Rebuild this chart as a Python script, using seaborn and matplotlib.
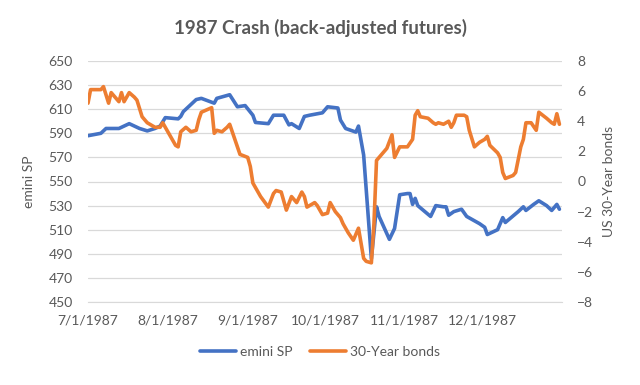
import matplotlib
matplotlib.use("Agg")
import matplotlib.pyplot as plt
import seaborn as sns
import pandas as pd

# values (month-day in 1987)
sp_dates = [
    "07-01", "07-06", "07-08", "07-13", "07-17", "07-21", "07-24", "07-27", "07-29", "07-31",
    "08-05", "08-06", "08-07", "08-12", "08-14", "08-19", "08-20", "08-25", "08-28", "08-31",
    "09-03", "09-04", "09-09", "09-11", "09-15", "09-17", "09-18", "09-21", "09-23", "09-25",
    "09-30", "10-02", "10-06", "10-07", "10-09", "10-13", "10-14", "10-15", "10-16", "10-19",
    "10-21", "10-22", "10-26", "10-28", "10-30", "11-02", "11-03", "11-04", "11-05", "11-06",
    "11-11", "11-13", "11-16", "11-17", "11-18", "11-20", "11-23", "11-25", "11-30", "12-02",
    "12-03", "12-07", "12-09", "12-10", "12-15", "12-17", "12-18", "12-21", "12-23", "12-26",
    "12-28", "12-30", "12-31",
]
sp_values = [
    588, 590, 594, 594, 598, 594, 592, 594, 596, 603,
    602, 604, 608, 618, 619, 615, 619, 622, 612, 613,
    605, 599, 598, 605, 605, 597, 598, 594, 604, 605,
    607, 612, 611, 601, 594, 591, 596, 584, 572, 486,
    529, 521, 502, 511, 539, 540, 540, 531, 536, 530,
    521, 530, 529, 529, 522, 525, 527, 521, 515, 512,
    506, 510, 520, 516, 525, 529, 526, 531, 534, 530,
    526, 531, 527,
]

bond_dates = [
    "07-01", "07-02", "07-06", "07-07", "07-09", "07-10", "07-13", "07-14", "07-15", "07-17",
    "07-19", "07-20", "07-22", "07-24", "07-27", "07-29", "07-30", "08-01", "08-04", "08-05",
    "08-06", "08-08", "08-10", "08-12", "08-13", "08-14", "08-18", "08-19", "08-20", "08-22",
    "08-24", "08-25", "08-26", "08-28", "08-29", "09-01", "09-02", "09-03", "09-04", "09-06",
    "09-09", "09-11", "09-12", "09-14", "09-16", "09-18", "09-19", "09-20", "09-22", "09-23",
    "09-24", "09-27", "09-28", "09-30", "10-02", "10-03", "10-05", "10-07", "10-08", "10-10",
    "10-12", "10-14", "10-15", "10-16", "10-17", "10-19", "10-20", "10-21", "10-23", "10-25",
    "10-27", "10-28", "10-30", "11-02", "11-04", "11-05", "11-06", "11-07", "11-10", "11-12",
    "11-13", "11-14", "11-16", "11-18", "11-19", "11-20", "11-21", "11-24", "11-25", "11-26",
    "11-28", "11-30", "12-02", "12-03", "12-04", "12-07", "12-08", "12-09", "12-10", "12-13",
    "12-14", "12-16", "12-17", "12-18", "12-20", "12-22", "12-23", "12-26", "12-28", "12-29",
    "12-30", "12-31",
]
bond_values = [
    5.2, 6.1, 6.1, 6.3, 5.2, 5.9, 5.3, 5.9, 5.3, 5.9,
    5.6, 5.4, 4.3, 3.9, 3.6, 3.6, 3.9, 3.3, 2.4, 2.3,
    3.3, 3.6, 3.3, 3.4, 4.1, 4.6, 4.9, 3.2, 3.4, 3.3,
    3.6, 3.8, 3.3, 2.3, 1.8, 1.6, 1.0, -0.1, -0.4, -1.0,
    -1.7, -0.8, -0.6, -0.7, -1.9, -1.0, -1.2, -1.4, -0.7, -1.0,
    -1.7, -1.4, -1.6, -2.2, -2.1, -1.4, -2.0, -2.4, -2.8, -3.4,
    -3.9, -3.1, -4.1, -5.1, -5.3, -5.4, -2.8, 1.4, 1.8, 2.2,
    3.1, 1.6, 2.3, 2.3, 2.8, 4.4, 4.7, 4.3, 4.2, 3.9,
    3.8, 3.9, 3.8, 4.0, 3.6, 3.9, 4.4, 4.4, 4.3, 3.4,
    2.3, 2.6, 2.8, 3.0, 2.4, 1.9, 1.6, 0.6, 0.2, 0.4,
    0.6, 2.3, 2.8, 3.9, 3.9, 3.4, 4.6, 4.2, 3.9, 3.8,
    4.5, 3.8,
]

month_ticks = ["1987-07-01", "1987-08-01", "1987-09-01", "1987-10-01",
               "1987-11-01", "1987-12-01", "1988-01-01"]
tick_labels = ["7/1/1987", "8/1/1987", "9/1/1987", "10/1/1987",
               "11/1/1987", "12/1/1987", ""]

BLUE = "#4472C4"
ORANGE = "#ED7D31"
TEXT = "#595959"
GRID = "#D9D9D9"

sns.set_style("white")
plt.rcParams["font.family"] = ["Lato", "DejaVu Sans"]

sp = pd.DataFrame({"date": pd.to_datetime(["1987-" + d for d in sp_dates]),
                   "emini SP": sp_values})
bonds = pd.DataFrame({"date": pd.to_datetime(["1987-" + d for d in bond_dates]),
                      "30-Year bonds": bond_values})

fig, ax = plt.subplots(figsize=(6.4, 3.85), dpi=100)
fig.subplots_adjust(left=88 / 640, right=562 / 640, top=1 - 61 / 385, bottom=1 - 302 / 385)
ax2 = ax.twinx()

sns.lineplot(data=sp, x="date", y="emini SP", ax=ax, color=BLUE,
             linewidth=2.6, label="emini SP", legend=False)
sns.lineplot(data=bonds, x="date", y="30-Year bonds", ax=ax2, color=ORANGE,
             linewidth=2.6, label="30-Year bonds", legend=False)

ax.set_ylim(450, 650)
ax.set_yticks(range(450, 651, 20))
ax2.set_ylim(-8, 8)
ax2.set_yticks(range(-8, 9, 2))
ax.set_xlim(pd.Timestamp(month_ticks[0]), pd.Timestamp(month_ticks[-1]))
ax.set_xticks(pd.to_datetime(month_ticks))
ax.set_xticklabels(tick_labels)

ax.grid(axis="y", color=GRID, linewidth=0.9)
ax.set_axisbelow(True)
for a in (ax, ax2):
    for s in a.spines.values():
        s.set_visible(False)
ax.spines["bottom"].set_visible(True)
ax.spines["bottom"].set_color(GRID)

ax.tick_params(axis="x", colors=GRID, length=5, width=0.9, labelcolor=TEXT,
               labelsize=10, pad=4)
ax.tick_params(axis="y", length=0, labelcolor=TEXT, labelsize=10, pad=11)
ax2.tick_params(axis="y", length=0, labelcolor=TEXT, labelsize=10, pad=11)

ax.set_xlabel("")
ax.set_ylabel("emini SP", color=TEXT, fontsize=10, labelpad=10)
ax2.set_ylabel("US 30-Year bonds", color=TEXT, fontsize=10, labelpad=7)

fig.suptitle("1987 Crash (back-adjusted futures)", color=TEXT, fontsize=13.5,
             fontweight="bold", y=1 - 28 / 385, va="center")

h1, l1 = ax.get_legend_handles_labels()
h2, l2 = ax2.get_legend_handles_labels()
fig.legend(h1 + h2, l1 + l2, loc="center", bbox_to_anchor=(0.5, 1 - 352 / 385),
           ncol=2, frameon=False, fontsize=10, labelcolor=TEXT,
           handlelength=2.6, handletextpad=0.3, columnspacing=1.2)

fig.savefig("out.png", dpi=100)
